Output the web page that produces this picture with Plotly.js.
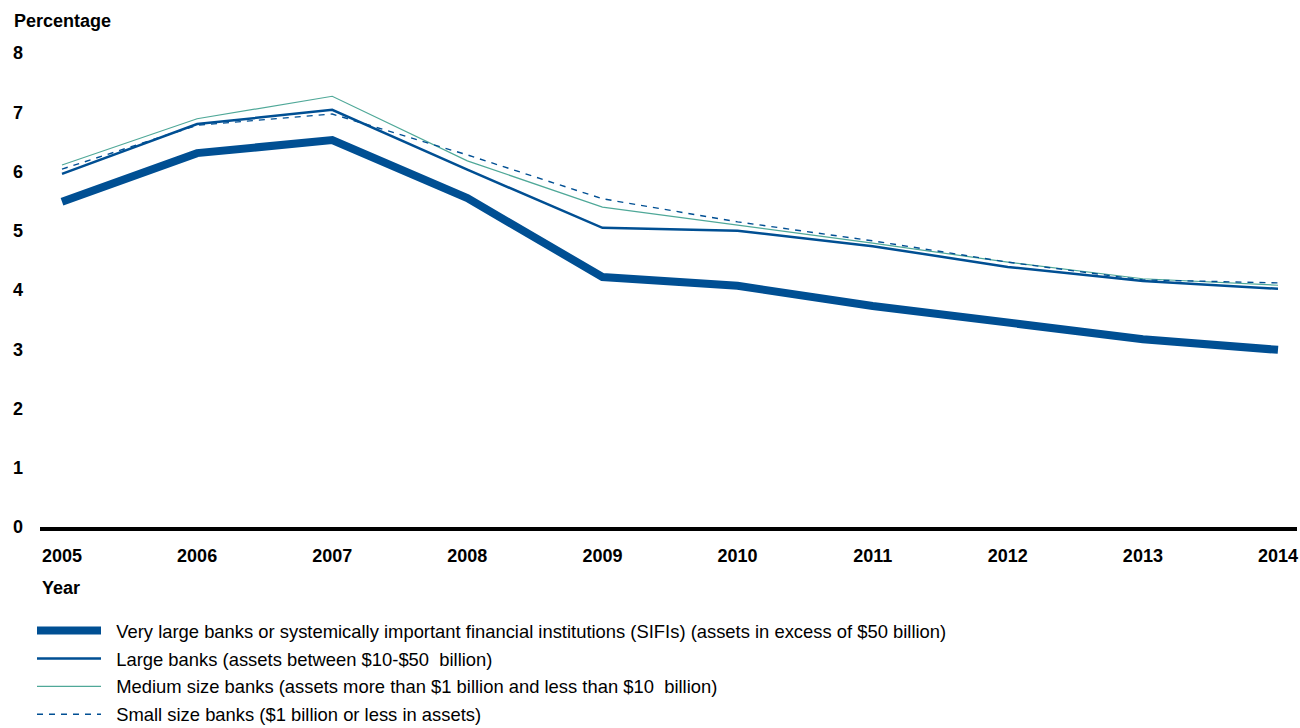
<!DOCTYPE html>
<html>
<head>
<meta charset="utf-8">
<script src="https://cdn.plot.ly/plotly-3.0.1.min.js"></script>
<style>html,body{margin:0;padding:0;background:#fff;}#chart{width:1300px;height:728px;}</style>
</head>
<body>
<div id="chart"></div>
<script>
const years = [2005, 2006, 2007, 2008, 2009, 2010, 2011, 2012, 2013, 2014];
const sifiBanks = [5.49, 6.31, 6.53, 5.55, 4.22, 4.07, 3.73, 3.44, 3.17, 2.99];
const largeBanks = [5.96, 6.80, 7.04, 6.03, 5.05, 5.00, 4.74, 4.39, 4.15, 4.02];
const mediumBanks = [6.11, 6.89, 7.27, 6.18, 5.40, 5.10, 4.79, 4.47, 4.19, 4.08];
const smallBanks = [6.04, 6.78, 6.97, 6.28, 5.54, 5.15, 4.83, 4.47, 4.17, 4.12];
const seriesNames = [
  "Very large banks or systemically important financial institutions (SIFIs) (assets in excess of $50 billion)",
  "Large banks (assets between $10-$50  billion)",
  "Medium size banks (assets more than $1 billion and less than $10  billion)",
  "Small size banks ($1 billion or less in assets)"
];
const yTicks = [0, 1, 2, 3, 4, 5, 6, 7, 8];

const blue = "#004f93";
const teal = "#4fa898";
const pad = "\u00a0\u00a0";

const traces = [
  {x: years, y: sifiBanks, name: pad + seriesNames[0], legendgroup: "g1", mode: "lines", line: {color: blue, width: 8}},
  {x: years, y: largeBanks, name: pad + seriesNames[1], legendgroup: "g2", mode: "lines", line: {color: blue, width: 2.5}},
  {x: years, y: mediumBanks, name: pad + seriesNames[2], legendgroup: "g3", mode: "lines", line: {color: teal, width: 1.2}},
  {x: years, y: smallBanks, name: pad + seriesNames[3], legendgroup: "g4", mode: "lines", line: {color: blue, width: 1.4, dash: "6px,6px"}}
];

const W = 1300, H = 728;
const L = 40, R = 3, T = 53, B = 201;
const plotW = W - L - R, plotH = H - T - B;
const pxPerYear = (1278 - 62) / 9;

const layout = {
  width: W, height: H,
  margin: {l: L, r: R, t: T, b: B, autoexpand: false},
  paper_bgcolor: "#fff", plot_bgcolor: "#fff",
  font: {family: "Liberation Sans, Arial, sans-serif", size: 18, color: "#000"},
  title: {
    text: "<b>Percentage</b>",
    font: {size: 18, color: "#000"},
    xref: "container", yref: "container",
    x: 14 / W, xanchor: "left",
    y: 1 - 21 / H, yanchor: "middle"
  },
  xaxis: {
    range: [2005 - 22 / pxPerYear, 2005 + (plotW - 22) / pxPerYear],
    tickvals: years,
    ticktext: years.map(y => "<b>" + y + "</b>"),
    showgrid: false, zeroline: false,
    showline: true, linecolor: "#000", linewidth: 4,
    ticks: "", ticklabelstandoff: 9,
    tickfont: {size: 18, color: "#000"},
    fixedrange: true
  },
  yaxis: {
    range: [0, 8],
    tickvals: yTicks,
    ticktext: yTicks.map(v => "<b>" + v + "</b>"),
    showgrid: false, zeroline: false, showline: false,
    ticks: "", ticklabelstandoff: 16,
    tickfont: {size: 18, color: "#000"},
    fixedrange: true
  },
  annotations: [{
    text: "<b>Year</b>",
    xref: "paper", yref: "paper",
    x: 0, xanchor: "left",
    y: (527 - 588) / plotH, yanchor: "middle",
    showarrow: false,
    font: {size: 18, color: "#000"}
  }],
  showlegend: true,
  legend: {
    orientation: "v",
    x: (32 - L) / plotW, xanchor: "left",
    y: (527 - 612) / plotH, yanchor: "top",
    font: {size: 18.4, color: "#000"},
    bgcolor: "rgba(0,0,0,0)",
    itemwidth: 64,
    tracegroupgap: 1
  }
};

Plotly.newPlot("chart", traces, layout, {displayModeBar: false, staticPlot: true});
</script>
</body>
</html>
